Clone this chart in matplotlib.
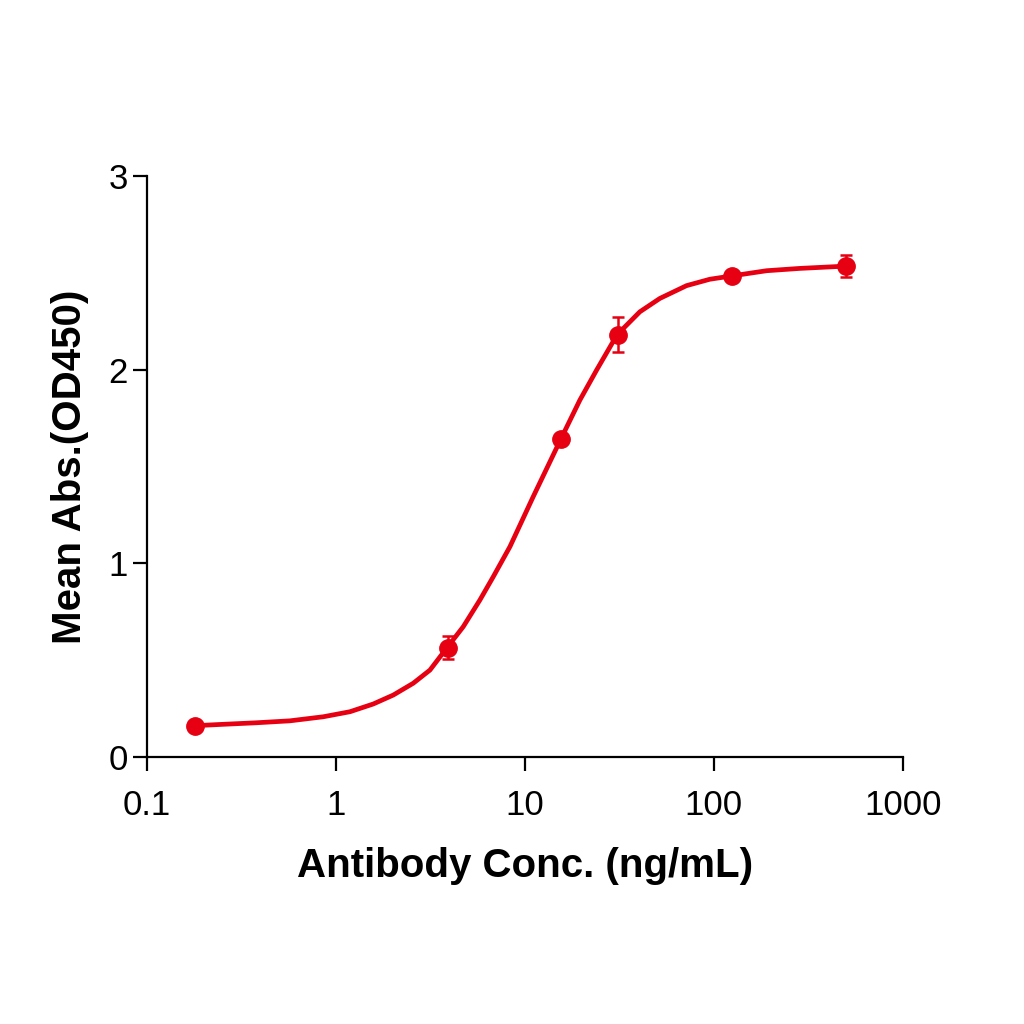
import numpy as np
import matplotlib.pyplot as plt
from matplotlib.ticker import FixedLocator, NullLocator

# measured points
conc = [0.18, 3.9, 15.6, 31.25, 125, 500]
od = [0.16, 0.565, 1.64, 2.18, 2.485, 2.535]
od_err = [0.01, 0.06, 0.02, 0.09, 0.02, 0.058]

# fitted curve
curve_x = [0.1795, 0.253, 0.380, 0.571, 0.857, 1.186, 1.576, 2.010, 2.564, 3.143,
           3.881, 4.717, 5.78, 6.80, 8.33, 11.06, 15.50, 19.54, 23.96, 30.78,
           40.6, 51.8, 71.7, 95.2, 124.1, 190.0, 285.1, 503.6]
curve_y = [0.162, 0.169, 0.177, 0.187, 0.208, 0.234, 0.274, 0.320, 0.381, 0.449,
           0.566, 0.673, 0.811, 0.931, 1.086, 1.344, 1.642, 1.843, 1.998, 2.181,
           2.299, 2.368, 2.434, 2.467, 2.484, 2.511, 2.523, 2.535]

x_ticks = [0.1, 1, 10, 100, 1000]
x_labels = ['0.1', '1', '10', '100', '1000']
y_ticks = [0, 1, 2, 3]

red = '#e60012'
plt.rcParams['font.family'] = ['Liberation Sans', 'DejaVu Sans']

fig = plt.figure(figsize=(10.24, 10.24), dpi=100)
ax = fig.add_axes([0.1436, 0.2607, 0.738, 0.5674])

ax.plot(curve_x, curve_y, color=red, lw=3.4, solid_joinstyle='round', solid_capstyle='round')
ax.errorbar(conc, od, yerr=od_err, fmt='o', color=red, ms=12.5, capsize=4.5,
            elinewidth=1.8, capthick=1.8)

ax.set_xscale('log')
ax.set_xlim(0.1, 1000)
ax.set_ylim(0, 3)
ax.xaxis.set_major_locator(FixedLocator(x_ticks))
ax.xaxis.set_minor_locator(NullLocator())
ax.set_xticklabels(x_labels)
ax.set_yticks(y_ticks)

for side in ['top', 'right']:
    ax.spines[side].set_visible(False)
for side in ['left', 'bottom']:
    ax.spines[side].set_linewidth(1.6)
ax.tick_params(axis='both', direction='out', length=10, width=1.6, labelsize=25)
ax.tick_params(axis='x', pad=13)
ax.tick_params(axis='y', pad=4)

ax.set_xlabel('Antibody Conc. (ng/mL)', fontsize=29, fontweight='bold', labelpad=18)
ax.set_ylabel('Mean Abs.(OD450)', fontsize=29, fontweight='bold', labelpad=14)

fig.savefig('out.png', dpi=100)
